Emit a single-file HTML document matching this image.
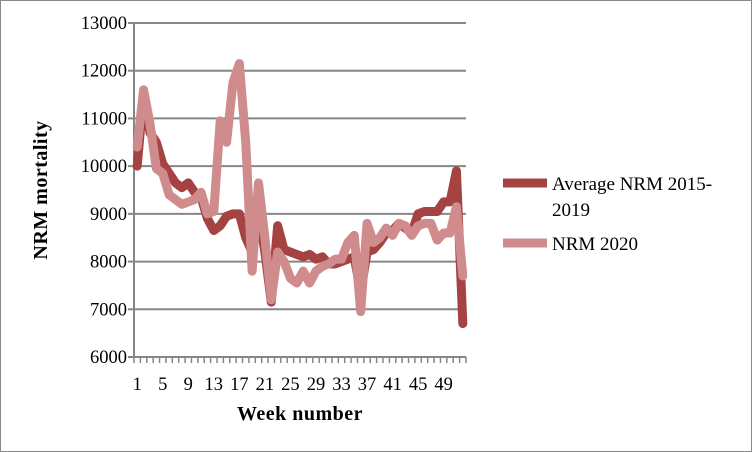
<!DOCTYPE html>
<html><head><meta charset="utf-8"><style>
body{margin:0;background:#fff}
svg{display:block;font-family:"Liberation Serif",serif}
</style></head><body>
<svg width="752" height="452">
<rect x="0.5" y="0.5" width="751" height="451" fill="#fff" stroke="#888"/>
<g id="grid"></g><g id="axes"></g><g id="series"></g>
<text x="47" y="190" transform="rotate(-90 47 190)" text-anchor="middle" font-weight="bold" font-size="20" letter-spacing="0.5">NRM mortality</text>
<text x="300" y="420" text-anchor="middle" font-weight="bold" font-size="20" letter-spacing="0.5">Week number</text>
<g>
<line x1="503" y1="183" x2="547" y2="183" stroke="#a54342" stroke-width="9"/>
<text x="552" y="190" font-size="19">Average NRM 2015-</text>
<text x="552" y="216" font-size="19">2019</text>
<line x1="503" y1="243" x2="547" y2="243" stroke="#d08c8c" stroke-width="9"/>
<text x="552" y="250" font-size="19">NRM 2020</text>
</g>
</svg>
<script>
const weeks=[];for(let i=1;i<=52;i++)weeks.push(i);
const avg=[10000,11500,10700,10500,10050,9850,9650,9550,9650,9450,9350,8900,8650,8750,8950,9000,9000,8500,8200,9000,8200,7150,8750,8250,8200,8150,8100,8150,8050,8100,7950,7950,8000,8050,8100,7350,8200,8250,8400,8600,8650,8800,8700,8600,9000,9050,9050,9050,9250,9250,9900,6700];
const nrm2020=[10400,11600,10900,9950,9850,9400,9300,9200,9250,9300,9450,9000,9050,10950,10500,11750,12150,10500,7800,9650,8500,7200,8200,8000,7650,7550,7800,7550,7800,7900,7950,8050,8050,8400,8550,6950,8800,8400,8500,8700,8550,8800,8750,8550,8750,8800,8800,8450,8600,8600,9150,7700];
const yTicks=[6000,7000,8000,9000,10000,11000,12000,13000];
const xLabels=[1,5,9,13,17,21,25,29,33,37,41,45,49];
const L=134,R=466,T=23,B=357,ymin=6000,ymax=13000;
const bw=(R-L)/weeks.length;
const X=w=>L+bw*(w-0.5);
const Y=v=>B-(v-ymin)/(ymax-ymin)*(B-T);
const NS='http://www.w3.org/2000/svg';
function mk(t,a,p){const e=document.createElementNS(NS,t);for(const k in a)e.setAttribute(k,a[k]);p.appendChild(e);return e;}
const grid=document.getElementById('grid'),axes=document.getElementById('axes'),ser=document.getElementById('series');
yTicks.forEach(v=>{
 if(v>ymin){const g=mk('line',{x1:L,x2:R,y1:Y(v),y2:Y(v),stroke:'#868686','stroke-width':2},grid);
 
 }
 const tk=mk('line',{x1:L-6,x2:L,y1:Y(v),y2:Y(v),stroke:'#868686','stroke-width':2},axes);
 
 
 const t=mk('text',{x:L-7,y:Y(v)+6,'text-anchor':'end','font-size':18.5},axes);t.textContent=v;
 
 
});
const ya=mk('line',{x1:L,x2:L,y1:T,y2:B,stroke:'#868686','stroke-width':2},axes);


const xa=mk('line',{x1:L,x2:R,y1:B,y2:B,stroke:'#868686','stroke-width':2},axes);


for(let i=0;i<=weeks.length;i++){const tk=mk('line',{x1:L+bw*i,x2:L+bw*i,y1:B,y2:B+6,stroke:'#868686','stroke-width':1.5},axes);
 
 }
xLabels.forEach(w=>{const t=mk('text',{x:X(w),y:B+33,'text-anchor':'middle','font-size':18.5},axes);t.textContent=w;
 
 });
function line(d,c,n){const p=mk('polyline',{points:d.map((v,i)=>X(weeks[i])+','+Y(v)).join(' '),fill:'none',stroke:c,'stroke-width':9,'stroke-linejoin':'round','stroke-linecap':'round'},ser);
 
 }
line(avg,'#a54342','series-average-2015-2019');
line(nrm2020,'#d08c8c','series-nrm-2020');
</script>
</body></html>
